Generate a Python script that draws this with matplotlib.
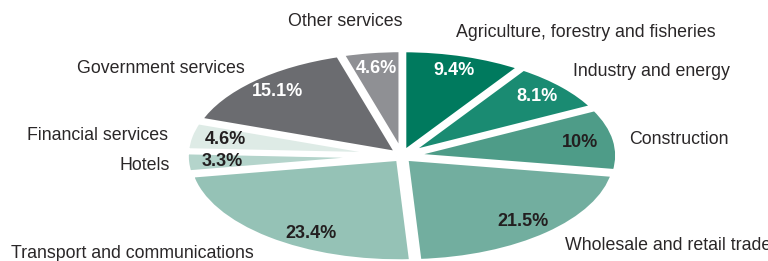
import matplotlib
matplotlib.use('Agg')
import numpy as np
import matplotlib.pyplot as plt

# sector shares of GDP (%)
sectors = ['Agriculture, forestry and fisheries', 'Industry and energy', 'Construction',
           'Wholesale and retail trade', 'Transport and communications', 'Hotels',
           'Financial services', 'Government services', 'Other services']
shares = [9.4, 8.1, 10, 21.5, 23.4, 3.3, 4.6, 15.1, 4.6]

colors = ['#007a5e', '#1a8b72', '#4e9c88', '#72ae9f', '#95c2b6',
          '#b4d4cb', '#deebe6', '#6b6c70', '#8f9094']
pct_colors = ['white', 'white', '#231f20', '#231f20', '#231f20',
              '#231f20', '#231f20', 'white', 'white']

# outer label anchors (data coords) and alignment
label_pos = [(0.256, 1.19, 'left'), (0.81, 0.81, 'left'), (1.077, 0.16, 'left'),
             (0.774, -0.865, 'left'), (-0.702, -0.94, 'right'), (-1.101, -0.096, 'right'),
             (-1.11, 0.20, 'right'), (-0.745, 0.846, 'right'), (-0.27, 1.29, 'center')]

plt.rcParams['font.family'] = ['Liberation Sans', 'DejaVu Sans']

fig = plt.figure(figsize=(7.68, 2.61), dpi=100)
ax = fig.add_axes([0, 0, 1, 1])

wedges, texts, autotexts = ax.pie(
    shares, colors=colors, startangle=90, counterclock=False,
    explode=[0.025] * len(shares),
    autopct=lambda p: '{:g}%'.format(round(p, 1)), pctdistance=0.83,
    wedgeprops=dict(edgecolor='white', linewidth=4),
    textprops=dict(fontsize=13, fontweight='bold'))

for t, c in zip(autotexts, pct_colors):
    t.set_color(c)

# the transport label sits a bit further round in the original
a = np.deg2rad(-120)
autotexts[4].set_position((0.86 * np.cos(a), 0.86 * np.sin(a)))

for name, (x, y, ha) in zip(sectors, label_pos):
    ax.text(x, y, name, ha=ha, va='center', fontsize=12.8, color='#2a2728')

ax.set_aspect('auto')
ax.set_xlim(-402 / 210.7, (768 - 402) / 210.7)
ax.set_ylim(-(261 - 156) / 104, 156 / 104)
ax.axis('off')

fig.savefig('out.png', dpi=100)
